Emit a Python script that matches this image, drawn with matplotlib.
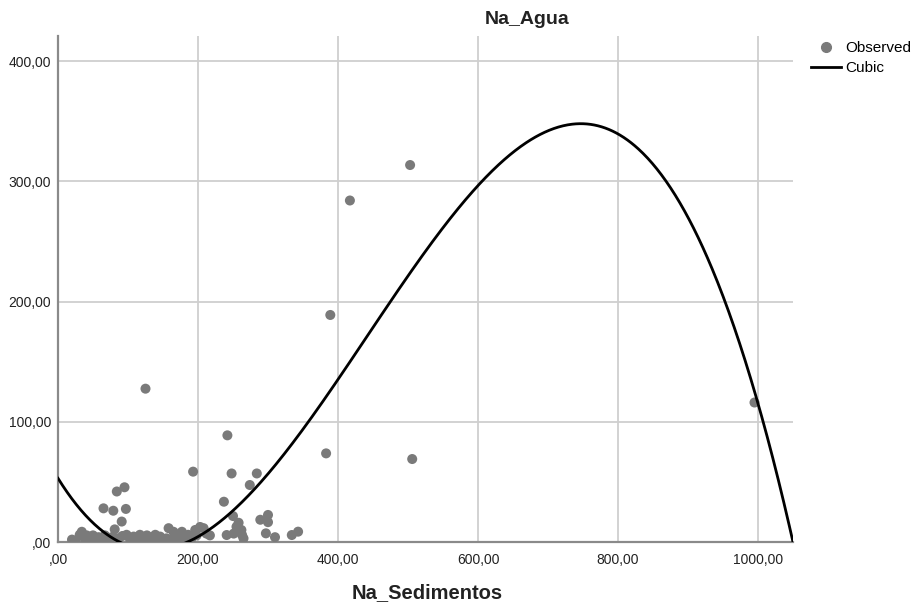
import numpy as np
import matplotlib
matplotlib.use("Agg")
import matplotlib.pyplot as plt
from matplotlib.lines import Line2D
from matplotlib.ticker import FuncFormatter

plt.rcParams['font.family'] = ['Liberation Sans', 'DejaVu Sans']

# Observed values: sodium in sediments (x) vs sodium in water (y)
na_sedimentos = [
    20, 25, 31, 34, 38, 41, 46, 50, 55, 58, 63, 65, 67, 72, 77, 79, 81, 84,
    86, 91, 92, 95, 97, 98, 103, 108, 112, 117, 120, 125, 127, 130, 134, 139,
    142, 146, 150, 155, 158, 162, 165, 170, 173, 177, 180, 186, 190, 193, 196,
    198, 203, 208, 212, 217,
    237, 241, 242, 248, 250, 251, 255, 258, 262, 263, 265, 274, 284, 289, 297,
    300, 300, 310, 334, 343,
    383, 389, 417, 503, 506, 995,
]
na_agua = [
    2, 1, 6, 8.5, 3, 5.5, 2, 5.5, 2.5, 4, 2, 28, 5.5, 2, 4, 26, 10.5, 42,
    3, 17, 5, 45.5, 27.5, 6, 2, 4.5, 2.5, 6, 3, 127.5, 5.5, 2, 4, 6,
    3, 4.5, 2, 3, 11.5, 2, 8.5, 4.5, 2, 8.5, 3, 6, 2, 58.5, 10,
    5.5, 12.5, 11.5, 7, 5.5,
    33.5, 5.8, 88.7, 57, 21.6, 7, 12.7, 16, 10, 5.8, 3, 47.4, 57, 18.5, 7.2,
    22.5, 16.5, 4, 5.8, 8.6,
    73.7, 188.8, 284, 313.5, 69, 116,
]

# Cubic model coefficients: b0 + b1*x + b2*x^2 + b3*x^3
b0, b1, b2, b3 = 52.99, -0.939083, 0.0041013, -3.1e-6

x_ticks = [0, 200, 400, 600, 800, 1000]
y_ticks = [0, 100, 200, 300, 400]

fig = plt.figure(figsize=(9.16, 6.05), dpi=100)
ax = fig.add_axes([58 / 916, 1 - 542 / 605, (793 - 58) / 916, (542 - 36) / 605])

ax.set_xlim(0, 1050)
ax.set_ylim(0, 420.8)

grid_col = '#cfcfcf'
for xv in x_ticks[1:]:
    ax.axvline(xv, color=grid_col, lw=1.3, zorder=0)
for yv in y_ticks[1:]:
    ax.axhline(yv, color=grid_col, lw=1.3, zorder=0)

ax.scatter(na_sedimentos, na_agua, s=52, color='#7a7a7a', edgecolors='none',
           zorder=3, clip_on=True)

xs = np.linspace(0, 1050, 800)
ys = b0 + b1 * xs + b2 * xs ** 2 + b3 * xs ** 3
ax.plot(xs, ys, color='black', lw=2.0, zorder=4)

def comma_fmt(v, pos):
    s = f"{v:.2f}".replace('.', ',')
    if s.startswith('0,'):
        s = s[1:]
    return s

ax.set_xticks(x_ticks)
ax.set_yticks(y_ticks)
ax.xaxis.set_major_formatter(FuncFormatter(comma_fmt))
ax.yaxis.set_major_formatter(FuncFormatter(comma_fmt))
ax.tick_params(axis='both', length=0, labelsize=10, colors='#222222')
ax.tick_params(axis='x', pad=8)
ax.tick_params(axis='y', pad=5)

for side in ('top', 'right'):
    ax.spines[side].set_visible(False)
for side in ('left', 'bottom'):
    ax.spines[side].set_color('#8a8a8a')
    ax.spines[side].set_linewidth(1.6)

fig.text(527 / 916, 1 - 19 / 605, 'Na_Agua', ha='center', va='center',
         fontsize=14, fontweight='bold', color='#222222')
fig.text(427 / 916, 1 - 593 / 605, 'Na_Sedimentos', ha='center', va='center',
         fontsize=14.5, fontweight='bold', color='#222222')

handles = [
    Line2D([], [], marker='o', ls='none', color='#7a7a7a', markersize=7),
    Line2D([], [], color='black', lw=2.0),
]
fig.legend(handles, ['Observed', 'Cubic'], loc='upper left',
           bbox_to_anchor=(811 / 916, 1 - 41 / 605), frameon=False,
           fontsize=11, handlelength=1.95, handletextpad=0.28,
           labelspacing=0.42, borderaxespad=0, borderpad=0)

fig.savefig('out.png', dpi=100)
